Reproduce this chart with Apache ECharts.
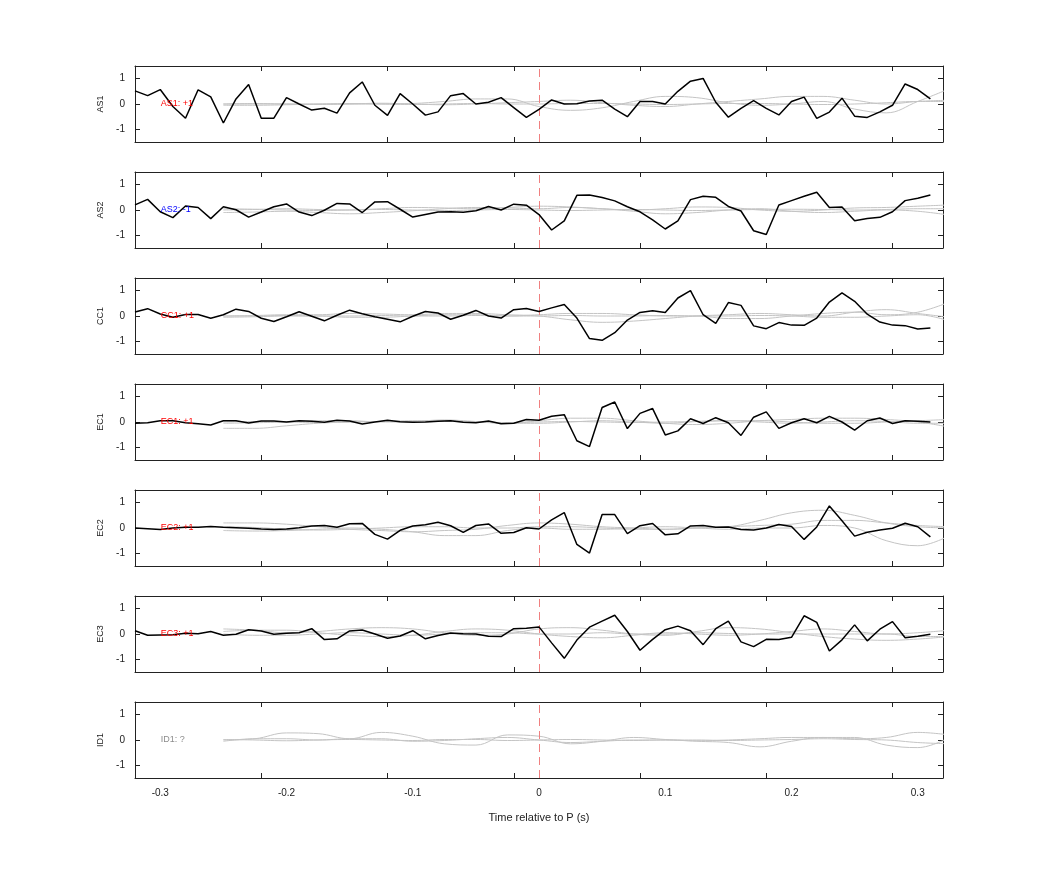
<!DOCTYPE html>
<html><head><meta charset="utf-8">
<script src="https://cdn.jsdelivr.net/npm/echarts@6/dist/echarts.min.js"></script>
<style>html,body{margin:0;padding:0;background:#fff}#c{width:1042px;height:875px}</style>
</head><body><div id="c"></div>
<script>
const stations = ['AS1','AS2','CC1','EC1','EC2','EC3','ID1'];
const annotations = ['AS1: +1','AS2: -1','CC1: +1','EC1: +1','EC2: +1','EC3: +1','ID1: ?'];
const annotationColors = ['#ff0000','#0000ff','#ff0000','#ff0000','#ff0000','#ff0000','#8c8c8c'];
const xTickLabels = ['-0.3','-0.2','-0.1','0','0.1','0.2','0.3'];
const sampleStart = -0.32, sampleStep = 0.01;
const templateStart = -0.25, templateStep = 0.025;

const AS1 = [0.52,0.33,0.57,-0.1,-0.56,0.56,0.28,-0.75,0.2,0.77,-0.56,-0.56,0.25,0.0,-0.24,-0.17,-0.36,0.44,0.87,-0.05,-0.45,0.41,0.0,-0.44,-0.31,0.33,0.41,0.0,0.07,0.25,-0.14,-0.53,-0.21,
 0.16,0.0,0.01,0.12,0.15,-0.2,-0.5,0.1,0.1,0.0,0.5,0.9,1.01,0.07,-0.52,-0.17,0.13,-0.17,-0.43,0.1,0.27,-0.57,-0.32,0.23,-0.48,-0.53,-0.31,-0.05,0.79,0.57,0.2];
const AS2 = [0.2,0.42,-0.07,-0.3,0.16,0.1,-0.34,0.13,0.01,-0.28,-0.08,0.13,0.24,-0.08,-0.22,-0.01,0.26,0.24,-0.1,0.32,0.33,0.03,-0.28,-0.18,-0.08,-0.07,-0.09,-0.03,0.14,0.0,0.23,0.19,-0.18,
 -0.79,-0.43,0.58,0.59,0.49,0.36,0.13,-0.07,-0.39,-0.75,-0.43,0.41,0.54,0.5,0.14,-0.04,-0.82,-0.97,0.2,0.37,0.54,0.7,0.1,0.12,-0.42,-0.34,-0.29,-0.07,0.37,0.46,0.59];
const CC1 = [0.16,0.29,0.08,-0.05,0.06,0.06,-0.09,0.05,0.27,0.18,-0.09,-0.22,-0.03,0.17,-0.01,-0.19,0.03,0.23,0.09,-0.03,-0.13,-0.23,-0.01,0.18,0.12,-0.13,0.03,0.22,0.0,-0.08,0.25,0.3,0.18,
 0.32,0.45,-0.08,-0.89,-0.96,-0.66,-0.16,0.14,0.21,0.14,0.71,1.0,0.05,-0.29,0.53,0.42,-0.39,-0.5,-0.26,-0.36,-0.37,-0.08,0.55,0.91,0.58,0.07,-0.24,-0.36,-0.38,-0.51,-0.47];
const EC1 = [-0.05,-0.03,0.05,0.05,-0.03,-0.07,-0.12,0.05,0.05,-0.04,0.04,0.04,0.0,0.05,0.03,-0.01,0.07,0.04,-0.08,0.0,0.07,0.01,-0.01,0.0,0.03,0.05,-0.01,-0.03,0.04,-0.07,-0.05,0.1,0.07,
 0.23,0.29,-0.74,-0.97,0.57,0.79,-0.26,0.34,0.53,-0.51,-0.35,0.13,-0.06,0.17,-0.03,-0.53,0.19,0.4,-0.25,-0.03,0.13,-0.03,0.22,0.0,-0.32,0.05,0.16,-0.06,0.05,0.03,0.0];
const EC2 = [0.0,-0.03,-0.06,0.0,0.03,0.03,0.06,0.03,0.01,-0.01,-0.04,-0.06,-0.04,0.01,0.08,0.1,0.03,0.17,0.18,-0.25,-0.44,-0.09,0.08,0.13,0.23,0.09,-0.17,0.1,0.16,-0.21,-0.18,0.01,-0.04,
 0.32,0.61,-0.65,-0.99,0.53,0.53,-0.22,0.09,0.18,-0.27,-0.23,0.08,0.1,0.03,0.04,-0.06,-0.08,0.0,0.14,0.06,-0.45,0.04,0.87,0.29,-0.32,-0.17,-0.08,-0.01,0.19,0.05,-0.35];
const EC3 = [0.13,-0.05,-0.04,-0.03,0.03,0.01,0.1,-0.05,-0.01,0.17,0.12,-0.01,0.03,0.05,0.21,-0.22,-0.19,0.12,0.16,0.0,-0.17,-0.08,0.13,-0.19,-0.06,0.04,0.01,0.0,-0.09,-0.1,0.21,0.23,0.28,
 -0.35,-0.96,-0.24,0.27,0.51,0.74,0.1,-0.64,-0.21,0.17,0.31,0.13,-0.42,0.21,0.51,-0.31,-0.5,-0.21,-0.22,-0.13,0.72,0.46,-0.67,-0.23,0.36,-0.27,0.19,0.49,-0.15,-0.09,-0.01];
const ID1 = [];

// grey template traces, sampled at 0.025 s from -0.25 s
const greyAS1 = [[0,0,0,0,0,0,0.02,0.1,0.2,0.2,-0.1,-0.25,-0.15,0.1,0.3,0.25,0.05,-0.05,0,0.1,-0.2,-0.35,0.1,0.6],
 [0,0.02,0,-0.02,0,0.03,0,-0.03,0,0.05,0.1,0.15,0.05,-0.05,-0.1,0,0.1,0.2,0.3,0.3,0.15,0,0.1,0.15],
 [-0.05,-0.05,-0.03,0,0.02,0,-0.02,0,0.02,0,0,0.02,0.02,0,-0.02,0,0.02,0.02,0,-0.02,0,0.05,0.1,0.1]];
const greyAS2 = [[-0.1,-0.08,-0.05,-0.1,-0.15,-0.1,-0.03,0.05,0.1,0.08,0.05,0.1,0.05,-0.05,-0.15,-0.1,0,0.05,-0.05,-0.1,-0.05,0,-0.05,-0.2],
 [0,0.02,0.05,0.02,0,0.05,0.1,0.08,0.05,0.1,0.15,0.12,0.05,0,0.05,0.12,0.1,0,-0.05,0,0.08,0.1,0.15,0.2],
 [0.05,0.03,0,-0.02,0,0.02,0,-0.02,0,0.02,0,-0.02,0,0.02,0,-0.02,0,0.02,0.03,0.02,0,0.02,0.05,0.05]];
const greyCC1 = [[0,0.02,0.05,0.05,0.1,0.08,0.05,0.1,0.1,0.05,0,-0.15,-0.25,-0.2,-0.1,0,0.05,0.1,0.05,0,0.15,0.25,0.1,-0.05],
 [-0.05,-0.03,0,0,-0.05,-0.05,0,0.05,0.05,0,0.05,0.1,0.1,0.05,0,0,-0.1,-0.1,0,0.1,0.15,0.05,0.15,0.55],
 [0,0,0.02,0,0,0.02,0,0,0.02,0,0,0.02,0,0,0.02,0,0,0.02,0,-0.05,-0.05,0,0.05,-0.2]];
const greyEC1 = [[-0.25,-0.25,-0.15,-0.05,0,0.02,0.05,0.05,0,-0.05,-0.05,0,0.05,0,-0.05,0.02,0.05,0,-0.05,0,0.05,0.02,-0.05,-0.05],
 [-0.05,-0.03,0,0.05,0.05,0,0.02,0.08,0.02,-0.05,0.05,0.15,0.15,0.05,-0.05,-0.1,-0.05,0.05,0.1,0.15,0.15,0.1,0,-0.2],
 [0,0.02,0,-0.02,0,0.02,0,0.02,0,-0.02,0,0.02,0,-0.02,0,0.02,0.05,0.05,0,-0.05,-0.05,0,0.05,0.1]];
const greyEC2 = [[0.2,0.2,0.15,0.05,-0.05,-0.1,-0.15,-0.1,-0.05,0.1,0.2,0.15,0.05,0,-0.05,0,0.05,0.3,0.6,0.7,0.5,0.2,0.05,0],
 [-0.1,-0.12,-0.1,-0.05,0,-0.05,-0.15,-0.3,-0.3,-0.1,0,-0.05,-0.05,0,0.05,0,-0.05,0,0,0.1,0,-0.5,-0.7,-0.3],
 [0.05,0.02,-0.05,-0.08,-0.05,0,0.05,0.05,0,0,0.05,0.05,0,-0.05,-0.05,0,0.05,0.1,0.15,0.3,0.3,0.2,0.1,0.05]];
const greyEC3 = [[0.2,0.15,0.05,0.1,0.2,0.25,0.2,0.05,-0.05,0,0.2,0.25,0.15,0,-0.05,0.1,0.25,0.2,0.05,-0.1,-0.2,-0.25,-0.2,-0.1],
 [0.1,0.15,0.15,0.05,-0.05,-0.1,-0.05,0.1,0.2,0.15,0,-0.1,-0.15,-0.05,0.05,0,-0.05,0,0.1,0.2,0.1,0,0.05,0.15],
 [0,-0.05,-0.05,0,0.05,0,-0.05,0,0.05,0.05,0,0,0.05,0,0,0.05,0.02,0,0,0,0,0,-0.1,-0.1]];
const greyID1 = [[0,0.05,0.28,0.25,0.05,0.3,0.15,-0.15,-0.2,0.2,0.15,-0.15,-0.05,0.1,0.02,-0.05,-0.1,-0.27,-0.05,0.1,0.1,-0.2,-0.3,0.1],
 [-0.05,0.05,0.05,0,0.05,0.05,-0.05,-0.02,0.05,0.1,0,-0.1,-0.05,0,0,-0.03,0,0.05,0.1,0.1,0.05,0.1,0.3,0.2],
 [0.02,0,-0.03,0,0.02,0,-0.02,0.02,0.02,-0.02,0,0.02,0,-0.02,0,0,-0.02,0,0.02,0.05,0.02,0,-0.1,-0.15]];

const blackData = [AS1,AS2,CC1,EC1,EC2,EC3,ID1];
const greyData = [greyAS1,greyAS2,greyCC1,greyEC1,greyEC2,greyEC3,greyID1];

const chart = echarts.init(document.getElementById('c'));
const font = 'Liberation Sans, Helvetica, Arial, sans-serif';
const grids=[],xAxes=[],yAxes=[],series=[];
const top0=66, pitch=106, h=76;
stations.forEach((st,i)=>{
  grids.push({left:135,width:808,top:top0+i*pitch,height:h});
  const last = i===stations.length-1;
  const tickBase = {show:true,inside:true,length:5,lineStyle:{color:'#222'}};
  xAxes.push({type:'value',gridIndex:i,min:-0.32,max:0.32,interval:0.1,position:'bottom',
    axisLine:{onZero:false,lineStyle:{color:'#222'}},axisTick:tickBase,splitLine:{show:false},
    axisLabel:{show:last,color:'#222',fontSize:10,fontFamily:font,margin:10,
      customValues:[-0.3,-0.2,-0.1,0,0.1,0.2,0.3],
      formatter:v=>xTickLabels[Math.round(v*10)+3]},
    name:last?'Time relative to P (s)':'',nameLocation:'middle',nameGap:34,
    nameTextStyle:{color:'#222',fontSize:11,fontFamily:font}});
  xAxes.push({type:'value',gridIndex:i,min:-0.32,max:0.32,interval:0.1,position:'top',
    axisLine:{onZero:false,lineStyle:{color:'#222'}},axisTick:tickBase,splitLine:{show:false},axisLabel:{show:false}});
  yAxes.push({type:'value',gridIndex:i,min:-1.5,max:1.5,position:'left',
    axisLine:{show:true,onZero:false,lineStyle:{color:'#222'}},axisTick:{...tickBase,customValues:[-1,0,1]},
    splitLine:{show:false},
    axisLabel:{color:'#222',fontSize:10,fontFamily:font,margin:10,customValues:[-1,0,1]},
    name:st,nameLocation:'middle',nameGap:28,nameRotate:90,nameTextStyle:{color:'#222',fontSize:9,fontFamily:font}});
  yAxes.push({type:'value',gridIndex:i,min:-1.5,max:1.5,position:'right',
    axisLine:{show:true,onZero:false,lineStyle:{color:'#222'}},axisTick:{...tickBase,customValues:[-1,0,1]},
    splitLine:{show:false},axisLabel:{show:false}});
  greyData[i].forEach(g=>{
    series.push({type:'line',xAxisIndex:2*i,yAxisIndex:2*i,smooth:0.4,symbol:'none',silent:true,
      lineStyle:{color:'#c4c4c4',width:1},
      data:g.map((v,k)=>[templateStart+k*templateStep,v])});
  });
  series.push({type:'line',xAxisIndex:2*i,yAxisIndex:2*i,symbol:'none',z:5,
    lineStyle:{color:'#000',width:1.5},
    data:blackData[i].map((v,k)=>[sampleStart+k*sampleStep,v]),
    markLine:{silent:true,symbol:'none',label:{show:false},
      lineStyle:{color:'#f08080',type:[8,5],width:1},data:[{xAxis:0}]}});
  series.push({type:'scatter',xAxisIndex:2*i,yAxisIndex:2*i,symbolSize:1,z:10,silent:true,
    itemStyle:{opacity:0},
    data:[[-0.3,0]],
    label:{show:true,position:'right',distance:0,formatter:annotations[i],opacity:1,
      textBorderWidth:0,color:annotationColors[i],fontSize:9,fontFamily:font}});
});
chart.setOption({animation:false,backgroundColor:'#fff',grid:grids,xAxis:xAxes,yAxis:yAxes,series});
</script></body></html>
